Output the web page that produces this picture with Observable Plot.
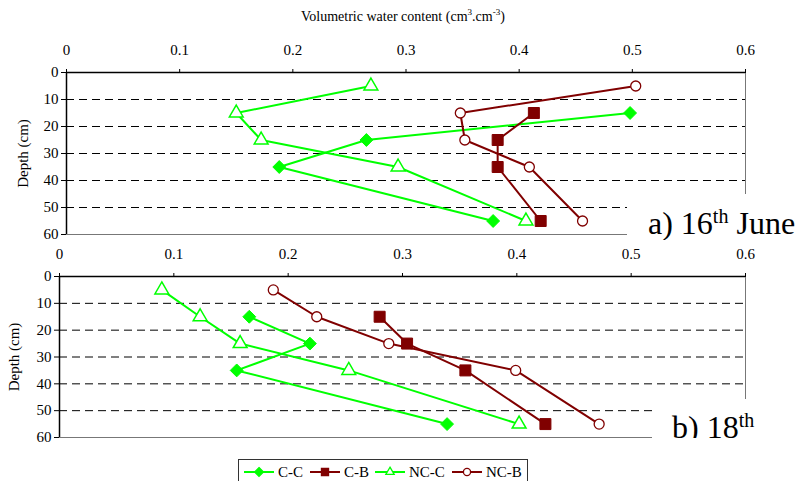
<!DOCTYPE html>
<html><head><meta charset="utf-8">
<script src="https://cdn.jsdelivr.net/npm/d3@7"></script>
<script src="https://cdn.jsdelivr.net/npm/@observablehq/plot@0.6"></script>
<style>
body{margin:0;background:#fff;font-family:"Liberation Serif",serif;}
#wrap{position:relative;width:798px;height:481px;overflow:hidden;background:#fff;font-family:"Liberation Serif",serif;}
#wrap svg{position:absolute;left:0;overflow:visible;}
.title{position:absolute;top:7px;left:301px;font-size:14px;white-space:nowrap;}
.title sup{font-size:9px;}
.plabel{position:absolute;background:#fff;overflow:hidden;z-index:5;font-size:32px;white-space:nowrap;}
.plabel div{position:absolute;line-height:1;}
.plabel sup{font-size:20px;line-height:0;vertical-align:0.55em;}
.legend{position:absolute;left:238px;top:459px;width:288px;height:30px;border:1px solid #333;z-index:6;background:#fff;font-size:15px;}
.item{position:absolute;top:2px;display:flex;align-items:center;}
.item svg{position:static !important;}
</style></head>
<body><div id="wrap"></div>
<script>
// Data
const seriesNames = ["C-C", "C-B", "NC-C", "NC-B"];
const seriesColors = ["#00ff00", "#800000", "#00ff00", "#800000"];
const depthsCC = [15, 25, 35, 55];
const depthsCB = [15, 25, 35, 55];
const depthsNCC = [5, 15, 25, 35, 55];
const depthsNCB = [5, 15, 25, 35, 55];
const june16CC = [0.498, 0.265, 0.188, 0.377];
const june16CB = [0.413, 0.381, 0.381, 0.419];
const june16NCC = [0.269, 0.150, 0.172, 0.293, 0.406];
const june16NCB = [0.503, 0.348, 0.352, 0.409, 0.456];
const june18CC = [0.166, 0.219, 0.155, 0.339];
const june18CB = [0.280, 0.304, 0.355, 0.425];
const june18NCC = [0.0895, 0.123, 0.158, 0.253, 0.402];
const june18NCB = [0.187, 0.225, 0.288, 0.399, 0.472];
const xTicks = [0, 0.1, 0.2, 0.3, 0.4, 0.5, 0.6];
const yTicks = [0, 10, 20, 30, 40, 50, 60];
const gridDepths = [10, 20, 30, 40, 50];

function rows(name, depths, vals) {
  return depths.map((d, i) => ({series: name, depth: d, value: vals[i]}));
}

function panel(cc, cb, ncc, ncb, m) {
  const data = [
    ...rows("C-C", depthsCC, cc),
    ...rows("C-B", depthsCB, cb),
    ...rows("NC-C", depthsNCC, ncc),
    ...rows("NC-B", depthsNCB, ncb)
  ];
  const sub = n => data.filter(d => d.series === n);
  const svg = Plot.plot({
    width: 798, height: m.height,
    marginLeft: m.left, marginRight: 53, marginTop: m.top, marginBottom: m.bottom,
    style: {background: "transparent", fontFamily: "'Liberation Serif', serif", fontSize: "15px", color: "#000", overflow: "visible"},
    x: {domain: [0, 0.6]},
    y: {domain: [0, 60], reverse: true},
    color: {domain: seriesNames, range: seriesColors},
    marks: [
      Plot.ruleY(gridDepths, {y: d => d, stroke: "#000", strokeWidth: 1, strokeDasharray: "8,5"}),
      Plot.frame({stroke: "#777", strokeWidth: 1}),
      Plot.ruleX([0], {stroke: "#000", strokeWidth: 1.5}),
      Plot.ruleY([0], {stroke: "#000", strokeWidth: 1.5}),
      Plot.axisX({anchor: "top", ticks: xTicks, tickSize: 4, tickPadding: 14, tickFormat: d => String(d), label: null, fontSize: 15}),
      Plot.axisY({anchor: "left", ticks: yTicks, tickSize: 5, tickPadding: 3, tickFormat: d => String(d), label: "Depth (cm)", labelAnchor: "center", labelArrow: "none", labelOffset: m.labelOffset, fontSize: 15}),
      Plot.line(data, {x: "value", y: "depth", z: "series", stroke: "series", strokeWidth: 2}),
      Plot.dot(sub("C-C"), {x: "value", y: "depth", symbol: "diamond2", r: 5.8, fill: "#00ff00", stroke: "#00ff00", strokeWidth: 1}),
      Plot.dot(sub("C-B"), {x: "value", y: "depth", symbol: "square", r: 6.2, fill: "#800000", stroke: "#800000", strokeWidth: 1}),
      Plot.dot(sub("NC-C"), {x: "value", y: "depth", symbol: "triangle2", r: 6.6, fill: "#fff", stroke: "#00ff00", strokeWidth: 1.5}),
      Plot.dot(sub("NC-B"), {x: "value", y: "depth", symbol: "circle", r: 5, fill: "#fff", stroke: "#800000", strokeWidth: 1.3})
    ]
  });
  d3.select(svg).selectAll("g, text").style("font-family", "'Liberation Serif', 'Times New Roman', serif").style("font-size", "15px");
  return svg;
}

const wrap = document.getElementById("wrap");
const a = panel(june16CC, june16CB, june16NCC, june16NCB, {height: 250, top: 72, bottom: 16, left: 66, labelOffset: 49});
a.style.top = "0px";
const b = panel(june18CC, june18CB, june18NCC, june18NCB, {height: 241, top: 36, bottom: 44, left: 59, labelOffset: 51});
b.style.top = "240px";
wrap.appendChild(a);
wrap.appendChild(b);

wrap.insertAdjacentHTML("beforeend", `
<div class="title">Volumetric water content (cm<sup>3</sup>.cm<sup>-3</sup>)</div>
<div class="plabel" style="left:627px;top:194px;width:171px;height:46px;"><div style="left:21px;top:13px;">a) 16<sup>th</sup> June</div></div>
<div class="plabel" style="left:652px;top:399px;width:146px;height:39px;"><div style="left:20px;top:12px;">b) 18<sup>th</sup></div></div>
`);

// legend
const leg = document.createElement("div");
leg.className = "legend";
wrap.appendChild(leg);
const symbolsLeg = ["diamond2", "square", "triangle2", "circle"];
const fillsLeg = ["#00ff00", "#800000", "#fff", "#fff"];
const lefts = [5, 71, 136, 213];
seriesNames.forEach((n, i) => {
  const it = document.createElement("div");
  it.className = "item";
  it.style.left = lefts[i] + "px";
  const sym = d3.symbol(d3["symbol" + symbolsLeg[i][0].toUpperCase() + symbolsLeg[i].slice(1)], i === 3 ? 40 : 50)();
  it.innerHTML = `<svg width="30" height="20" style="margin-right:4px"><line x1="0" x2="30" y1="10" y2="10" stroke="${seriesColors[i]}" stroke-width="2"/><path d="${sym}" transform="translate(15,10)" fill="${fillsLeg[i]}" stroke="${seriesColors[i]}" stroke-width="1.3"/></svg><span>${n}</span>`;
  leg.appendChild(it);
});
</script>
</body></html>
